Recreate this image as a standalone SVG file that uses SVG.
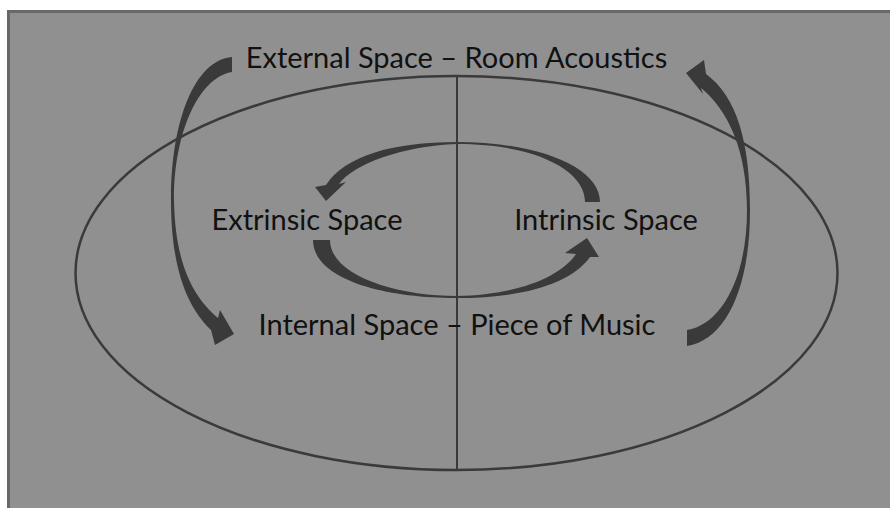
<svg xmlns="http://www.w3.org/2000/svg" width="890" height="508" viewBox="0 0 890 508">
<style>
.lbl{font-family:Lato,"Liberation Sans",sans-serif;font-size:29px;fill:#111;text-anchor:middle}
.arrow{fill:#3a3a3a}
.line{fill:none;stroke:#3a3a3a}
</style>
<rect x="0" y="0" width="890" height="508" fill="#ffffff"/>
<rect x="8.5" y="11.5" width="900" height="520" fill="#909090" stroke="#686868" stroke-width="3"/>
<g id="frame">
<ellipse class="line" cx="456.5" cy="273" rx="381" ry="197" stroke-width="2.5"/>
<line class="line" x1="457" y1="76" x2="457" y2="470" stroke-width="2"/>
</g>
<g id="connectors">
<path class="arrow" d="M 232,57 C 195,60 171,120 171,200 C 171,266 186,306 211,330 L 215,345 L 234,334 L 220,310 L 218,318 C 192,296 175,262 174,200 C 174,130 200,77 232,72 Z"/>
<path class="arrow" d="M 687,346 C 725,340 750,290 750,210 C 750,140 736,96 706,74 L 704,60 L 686,73 L 703,94 L 701,88 C 728,110 747,150 747,210 C 747,280 720,325 687,330 Z"/>
<path class="arrow" d="M 600,202 C 600,168 540,142 457,142 C 392,142 345,156 326,185 L 315,187 L 326,201 L 346,182 L 339,184 C 354,164 402,146 457,144 C 535,144 585,170 585,202 Z"/>
<path class="arrow" d="M 313,240 C 313,278 380,298 457,298 C 520,298 570,285 590,257 L 599,257 L 587,238 L 565,253 L 576,254 C 560,278 515,295 457,296 C 395,296 330,275 330,240 Z"/>
</g>
<g id="external"><text class="lbl" x="456.5" y="68">External Space – Room Acoustics</text></g>
<g id="extrinsic"><text class="lbl" x="307" y="230">Extrinsic Space</text></g>
<g id="intrinsic"><text class="lbl" x="606" y="230">Intrinsic Space</text></g>
<g id="internal"><text class="lbl" x="457" y="335">Internal Space – Piece of Music</text></g>
</svg>
